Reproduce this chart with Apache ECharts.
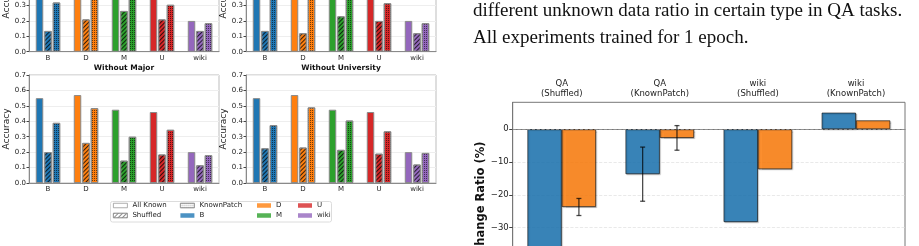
<!DOCTYPE html>
<html><head><meta charset="utf-8">
<script src="https://cdn.jsdelivr.net/npm/echarts@6/dist/echarts.min.js"></script>
<style>html,body{margin:0;padding:0;background:#fff;}#c{width:919px;height:246px;}</style>
</head><body><div id="c"></div>
<script>
// ---------- data ----------
const categories = ['B', 'D', 'M', 'U', 'wiki'];
const catColors = ['#1f77b4', '#ff7f0e', '#2ca02c', '#d62728', '#9467bd'];
const conditions = ['All Known', 'Shuffled', 'KnownPatch'];

const topLeftAllKnown   = [0.55, 0.57, 0.475, 0.46, 0.20];
const topLeftShuffled   = [0.135, 0.21, 0.265, 0.21, 0.135];
const topLeftKnownPatch = [0.32, 0.45, 0.40, 0.305, 0.185];

const topRightAllKnown   = [0.55, 0.57, 0.475, 0.46, 0.20];
const topRightShuffled   = [0.135, 0.12, 0.23, 0.20, 0.12];
const topRightKnownPatch = [0.40, 0.45, 0.40, 0.315, 0.185];

const majorAllKnown   = [0.55, 0.57, 0.475, 0.46, 0.20];
const majorShuffled   = [0.20, 0.26, 0.145, 0.185, 0.115];
const majorKnownPatch = [0.39, 0.485, 0.30, 0.345, 0.18];

const univAllKnown   = [0.55, 0.57, 0.475, 0.46, 0.20];
const univShuffled   = [0.225, 0.23, 0.215, 0.19, 0.12];
const univKnownPatch = [0.375, 0.49, 0.405, 0.335, 0.195];

const panelTitles = ['', '', 'Without Major', 'Without University'];

const changeCategories = ['QA\n(Shuffled)', 'QA\n(KnownPatch)', 'wiki\n(Shuffled)', 'wiki\n(KnownPatch)'];
const changeSeriesA = [-45.5, -13.7, -28.3, 5.05];
const changeErrA    = [2.5, 8.25, 0, 0];
const changeSeriesB = [-23.7, -2.65, -12.2, 2.7];
const changeErrB    = [2.6, 3.75, 0, 0];
const changeTicks   = [-50, -40, -30, -20, -10, 0];

const captionLines = ['different unknown data ratio in certain type in QA tasks.', 'All experiments trained for 1 epoch.'];

// ---------- layout / style ----------
const FONT = 'DejaVu Sans';
const hatchDecal = {symbol: 'rect', symbolSize: 1, dashArrayX: [1, 0], dashArrayY: [1, 2], rotation: -Math.PI / 4, color: 'rgba(0,0,0,0.75)'};
const dotDecal = {symbol: 'rect', symbolSize: 1, dashArrayX: [1, 1], dashArrayY: [1, 1], color: 'rgba(0,0,0,0.55)'};
const decals = [null, hatchDecal, dotDecal];

const panels = [
  {box: {left: 29, right: 700, top: -56, bottom: 194.3}, values: [topLeftAllKnown, topLeftShuffled, topLeftKnownPatch]},
  {box: {left: 246, right: 483, top: -56, bottom: 194.3}, values: [topRightAllKnown, topRightShuffled, topRightKnownPatch]},
  {box: {left: 29, right: 700, top: 75, bottom: 63}, values: [majorAllKnown, majorShuffled, majorKnownPatch]},
  {box: {left: 246, right: 483, top: 75, bottom: 63}, values: [univAllKnown, univShuffled, univKnownPatch]}
];

const grids = [], xAxes = [], yAxes = [], series = [], titles = [];
panels.forEach((p, i) => {
  grids.push(Object.assign({show: true, outerBoundsMode: 'none', containLabel: false, borderColor: '#bdbdbd', borderWidth: 1, backgroundColor: 'transparent'}, p.box));
  xAxes.push({
    gridIndex: i, type: 'category', data: categories,
    axisLine: {lineStyle: {color: '#8a8a8a', width: 1}},
    axisTick: {alignWithLabel: true, length: 2.5, lineStyle: {color: '#444'}},
    axisLabel: {fontSize: 7, color: '#222', margin: 3, fontFamily: FONT}
  });
  yAxes.push({
    gridIndex: i, type: 'value', min: 0, max: 0.7, interval: 0.1,
    name: 'Accuracy', nameLocation: 'middle', nameGap: 14,
    nameTextStyle: {fontSize: 9, color: '#222', fontFamily: FONT},
    axisLine: {show: true, lineStyle: {color: '#8a8a8a', width: 1}},
    axisTick: {show: true, length: 2.5, lineStyle: {color: '#444'}},
    axisLabel: {fontSize: 7, color: '#222', margin: 3, fontFamily: FONT, formatter: v => v.toFixed(1)},
    splitLine: {show: true, lineStyle: {color: '#eeeeee', width: 1}}
  });
  conditions.forEach((cond, k) => {
    const itemStyle = {borderColor: '#8a8a8a', borderWidth: 1};
    if (decals[k]) itemStyle.decal = decals[k];
    series.push({
      type: 'bar', name: cond, xAxisIndex: i, yAxisIndex: i, barWidth: 7.5, barGap: '13%',
      itemStyle: itemStyle,
      data: p.values[k].map((v, j) => ({value: v, itemStyle: {color: catColors[j]}}))
    });
  });
  if (panelTitles[i]) {
    titles.push({
      text: panelTitles[i], left: (p.box.left + (919 - p.box.right)) / 2, top: 64, padding: 0, textAlign: 'center',
      textStyle: {fontSize: 7.5, fontWeight: 'bold', color: '#111', fontFamily: FONT}
    });
  }
});

// dummy series for colour legend entries
categories.forEach((c, j) => {
  series.push({type: 'scatter', name: c, xAxisIndex: 0, yAxisIndex: 0, data: [], itemStyle: {color: catColors[j]}});
});

// right chart (grid 4)
grids.push({show: true, outerBoundsMode: 'none', containLabel: false, left: 512.7, right: 14, top: 102.3, bottom: -47.3, borderColor: '#777', borderWidth: 1, backgroundColor: 'transparent'});
xAxes.push({
  gridIndex: 4, type: 'category', position: 'top', data: changeCategories,
  axisLine: {lineStyle: {color: '#777'}},
  axisTick: {alignWithLabel: true, length: 3.5, lineStyle: {color: '#444'}},
  axisLabel: {fontSize: 8.5, lineHeight: 9.8, color: '#222', margin: 4, fontFamily: FONT}
});
yAxes.push({
  gridIndex: 4, type: 'value', min: -50, max: 8.2,
  name: 'Change Ratio (%)', nameLocation: 'middle', nameGap: 22,
  nameTextStyle: {fontSize: 11.5, fontWeight: 'bold', color: '#111', fontFamily: FONT},
  axisLine: {show: true, lineStyle: {color: '#777'}},
  axisTick: {show: true, length: 3.5, lineStyle: {color: '#444'}, customValues: changeTicks},
  axisLabel: {fontSize: 8.5, color: '#222', margin: 4, fontFamily: FONT, customValues: changeTicks,
    formatter: v => String(v).replace('-', '\u2212')},
  splitLine: {show: true, lineStyle: {color: '#e3e3e3', type: 'dashed', width: 0.8}}
});

const barStyleA = {color: 'rgba(31,119,180,0.85)', borderColor: 'rgba(0,0,0,0.75)', borderWidth: 0.8,
  shadowColor: 'rgba(0,0,0,0.25)', shadowOffsetX: 1, shadowOffsetY: 1, shadowBlur: 1};
const barStyleB = Object.assign({}, barStyleA, {color: 'rgba(255,127,14,0.85)'});
series.push({
  type: 'bar', name: 'Series A', xAxisIndex: 4, yAxisIndex: 4, barCategoryGap: '30%', barGap: '0%',
  itemStyle: barStyleA, data: changeSeriesA,
  markLine: {silent: true, symbol: 'none', label: {show: false},
    lineStyle: {type: 'dashed', color: '#9a9a9a', width: 0.8}, data: [{yAxis: 0}]}
});
series.push({
  type: 'bar', name: 'Series B', xAxisIndex: 4, yAxisIndex: 4, barCategoryGap: '30%', barGap: '0%',
  itemStyle: barStyleB, data: changeSeriesB
});
const errData = [];
changeSeriesA.forEach((v, i) => errData.push([i, v, changeErrA[i], 0]));
changeSeriesB.forEach((v, i) => errData.push([i, v, changeErrB[i], 1]));
series.push({
  type: 'custom', name: 'err', xAxisIndex: 4, yAxisIndex: 4, z: 10, silent: true,
  encode: {x: 0, y: 1}, data: errData,
  renderItem: (params, api) => {
    const idx = api.value(0), v = api.value(1), e = api.value(2), s = api.value(3);
    if (!(e > 0)) return null;
    const bw = api.size([1, 0])[0];
    const c = api.coord([idx, v]);
    const x = c[0] + (s === 0 ? -1 : 1) * bw * 0.175;
    const yt = api.coord([idx, v + e])[1], yb = api.coord([idx, v - e])[1];
    const st = {stroke: 'rgba(0,0,0,0.7)', lineWidth: 1.3};
    return {type: 'group', children: [
      {type: 'line', shape: {x1: x, y1: yt, x2: x, y2: yb}, style: st},
      {type: 'line', shape: {x1: x - 2.5, y1: yt, x2: x + 2.5, y2: yt}, style: st},
      {type: 'line', shape: {x1: x - 2.5, y1: yb, x2: x + 2.5, y2: yb}, style: st}
    ]};
  }
});

// caption text
titles.push({
  text: captionLines.join('\n'), left: 473, top: -2, padding: 0,
  textStyle: {fontFamily: 'Liberation Serif', fontSize: 19, fontWeight: 'normal', color: '#111', lineHeight: 26.5}
});

// legends
const legendCols = [['All Known', 'Shuffled'], ['KnownPatch', 'B'], ['D', 'M'], ['U', 'wiki']];
const legendLefts = [113, 180, 257, 298];
const legendItemStyle = {
  'All Known': {color: '#fff', borderColor: '#999', borderWidth: 0.8},
  'Shuffled': {color: '#fff', borderColor: '#999', borderWidth: 0.8, decal: {symbol: 'rect', symbolSize: 1, dashArrayX: [1, 0], dashArrayY: [1, 2], rotation: -Math.PI / 4, color: 'rgba(0,0,0,0.45)'}},
  'KnownPatch': {color: '#fff', borderColor: '#999', borderWidth: 0.8, decal: {symbol: 'rect', symbolSize: 1, dashArrayX: [1, 1], dashArrayY: [1, 1], color: 'rgba(0,0,0,0.35)'}}
};
const legends = legendCols.map((col, i) => ({
  orient: 'vertical', left: legendLefts[i], top: 202, padding: 0, itemGap: 3,
  itemWidth: 14, itemHeight: 4.5, icon: 'rect', selectedMode: false,
  textStyle: {fontSize: 7, color: '#222', fontFamily: FONT},
  data: col.map(n => legendItemStyle[n] ? {name: n, itemStyle: legendItemStyle[n]} : {name: n})
}));

const chart = echarts.init(document.getElementById('c'), null, {renderer: 'canvas'});
chart.setOption({
  animation: false,
  textStyle: {fontFamily: FONT},
  title: titles,
  legend: legends,
  grid: grids,
  xAxis: xAxes,
  yAxis: yAxes,
  series: series,
  graphic: [{type: 'rect', silent: true, z: -1,
    shape: {x: 110.5, y: 201.5, width: 221, height: 20.5, r: 2},
    style: {fill: 'none', stroke: '#dcdcdc', lineWidth: 1}}]
});
</script></body></html>
